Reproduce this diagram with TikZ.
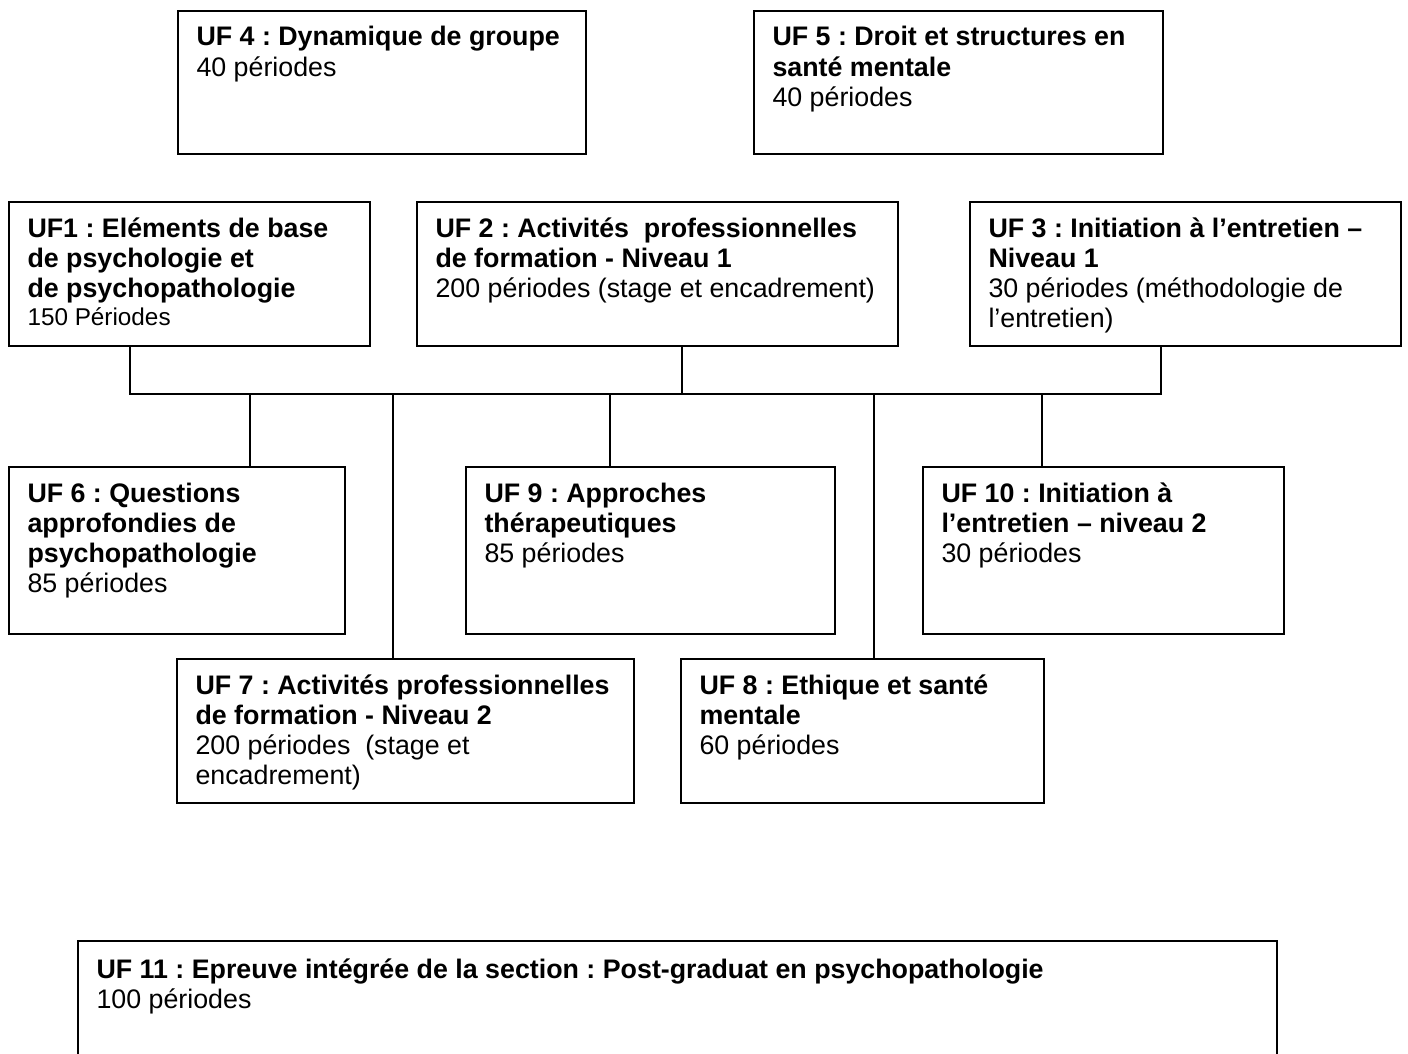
\documentclass[tikz,border=0pt]{standalone}
\usepackage{fontspec}
\setmainfont{Liberation Sans}
\usetikzlibrary{calc}
\tikzset{
  ufrect/.style={draw=black, line width=1.7pt, rectangle, inner sep=0pt, outer sep=0pt, anchor=north west},
  uftext/.style={inner sep=0pt, outer sep=0pt, anchor=base west, font=\fontsize{26.8}{30.3}\selectfont},
  link/.style={draw=black, line width=1.7pt},
}
\newcommand{\tln}[1]{\hbox{\bfseries #1}}
\newcommand{\pln}[1]{\hbox{#1}}
\newcommand{\uftxt}[3][35]{\node[uftext] at ([xshift=18.5pt,yshift=-#1pt]#2.north west) {\frenchspacing\vtop{#3}};}
\begin{document}
\begin{tikzpicture}[x=1pt,y=-1pt]
\fill[white] (0,0) rectangle (1408,1054);
\useasboundingbox (0,0) rectangle (1408,1054);

% boxes
\node[ufrect, minimum width=408pt, minimum height=143pt] (uf4) at (178,11) {};
\node[ufrect, minimum width=409pt, minimum height=143pt] (uf5) at (754,11) {};
\node[ufrect, minimum width=361pt, minimum height=144pt] (uf1) at (9,202) {};
\node[ufrect, minimum width=481pt, minimum height=144pt] (uf2) at (417,202) {};
\node[ufrect, minimum width=431pt, minimum height=144pt] (uf3) at (970,202) {};
\node[ufrect, minimum width=336pt, minimum height=167pt] (uf6) at (9,467) {};
\node[ufrect, minimum width=369pt, minimum height=167pt] (uf9) at (466,467) {};
\node[ufrect, minimum width=361pt, minimum height=167pt] (uf10) at (923,467) {};
\node[ufrect, minimum width=457pt, minimum height=144pt] (uf7) at (177,659) {};
\node[ufrect, minimum width=363pt, minimum height=144pt] (uf8) at (681,659) {};
\node[ufrect, minimum width=1199pt, minimum height=140pt] (uf11) at (78,941) {};

% texts
\uftxt{uf4}{\tln{UF 4 : Dynamique de groupe}\pln{40 périodes}}
\uftxt{uf5}{\tln{UF 5 : Droit et structures en}\tln{santé mentale}\pln{40 périodes}}
\uftxt{uf1}{\tln{UF1 : Eléments de base}\tln{de psychologie et}\tln{de psychopathologie}\baselineskip=27.6pt\hbox{\fontsize{24.3}{27.6}\selectfont 150 Périodes}}
\uftxt{uf2}{\tln{UF 2 : Activités~ professionnelles}\tln{de formation - Niveau 1}\pln{200 périodes (stage et encadrement)}}
\uftxt{uf3}{\tln{UF 3 : Initiation à l’entretien –}\tln{Niveau 1}\pln{30 périodes (méthodologie de}\pln{l’entretien)}}
\uftxt{uf6}{\tln{UF 6 : Questions}\tln{approfondies de}\tln{psychopathologie}\pln{85 périodes}}
\uftxt{uf9}{\tln{UF 9 : Approches}\tln{thérapeutiques}\pln{85 périodes}}
\uftxt{uf10}{\tln{UF 10 : Initiation à}\tln{l’entretien – niveau 2}\pln{30 périodes}}
\uftxt{uf7}{\tln{UF 7 : Activités professionnelles}\tln{de formation - Niveau 2}\pln{200 périodes~ (stage et}\pln{encadrement)}}
\uftxt{uf8}{\tln{UF 8 : Ethique et santé}\tln{mentale}\pln{60 périodes}}
\uftxt[37]{uf11}{\tln{UF 11 : Epreuve intégrée de la section : Post-graduat en psychopathologie}\pln{100 périodes}}

% bus coordinates
\coordinate (b1) at (130,394);
\coordinate (b6) at (250,394);
\coordinate (b7) at (393,394);
\coordinate (b9) at (610,394);
\coordinate (b2) at (682,394);
\coordinate (b8) at (874,394);
\coordinate (b10) at (1042,394);
\coordinate (b3) at (1161,394);

% connectors
\draw[link] (uf1.south -| b1) -- (b1) -- (b3) -- (uf3.south -| b3);
\draw[link] (uf2.south -| b2) -- (b2);
\draw[link] (b6) -- (b6 |- uf6.north);
\draw[link] (b7) -- (b7 |- uf7.north);
\draw[link] (b9) -- (b9 |- uf9.north);
\draw[link] (b8) -- (b8 |- uf8.north);
\draw[link] (b10) -- (b10 |- uf10.north);
\end{tikzpicture}
\end{document}
